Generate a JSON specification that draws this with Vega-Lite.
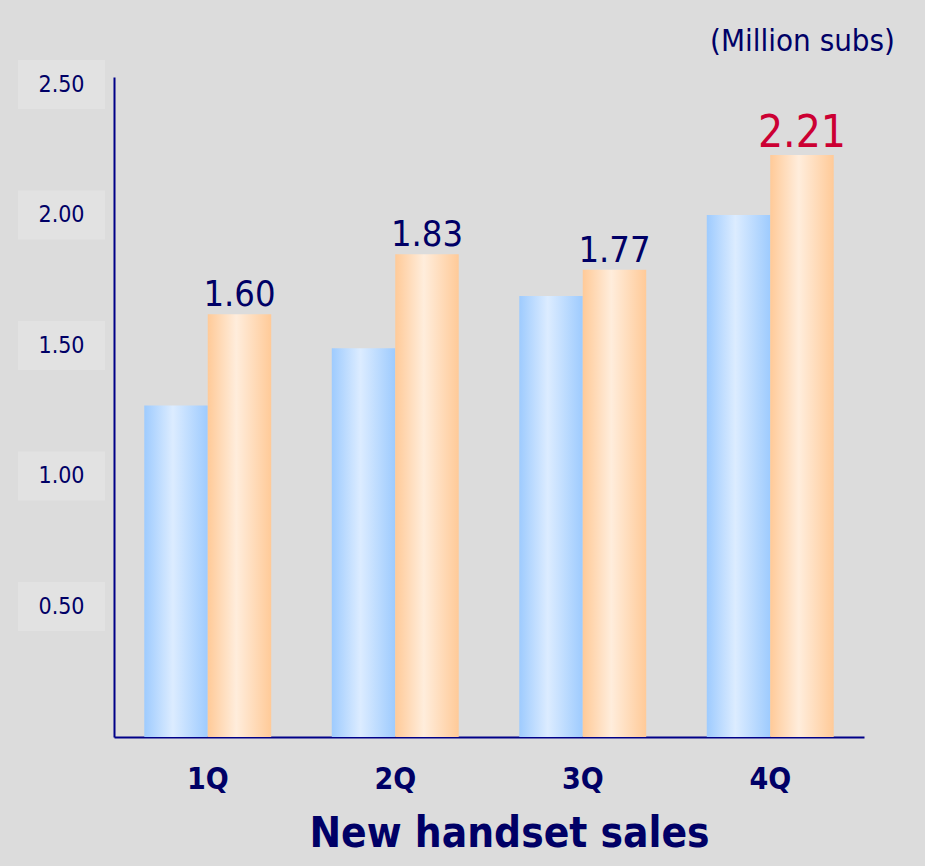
{
  "$schema": "https://vega.github.io/schema/vega-lite/v6.json",
  "background": "#dcdcdc",
  "padding": {"left": 18, "top": 26, "right": 30, "bottom": 12},
  "bounds": "flush",
  "spacing": 9,
  "config": {"view": {"stroke": null}, "font": "DejaVu Sans Condensed"},
  "title": {
    "text": "(Million subs)",
    "anchor": "end",
    "orient": "top",
    "fontSize": 31,
    "fontWeight": "normal",
    "color": "#000066",
    "font": "DejaVu Sans Condensed",
    "dx": 31,
    "offset": -29,
    "baseline": "bottom"
  },
  "datasets": {
    "sales": [
      {"quarter": "1Q", "series": "S1", "value": 1.27, "label": ""},
      {"quarter": "1Q", "series": "S2", "value": 1.62, "label": "1.60"},
      {"quarter": "2Q", "series": "S1", "value": 1.49, "label": ""},
      {"quarter": "2Q", "series": "S2", "value": 1.85, "label": "1.83"},
      {"quarter": "3Q", "series": "S1", "value": 1.69, "label": ""},
      {"quarter": "3Q", "series": "S2", "value": 1.79, "label": "1.77"},
      {"quarter": "4Q", "series": "S1", "value": 2.00, "label": ""},
      {"quarter": "4Q", "series": "S2", "value": 2.23, "label": "2.21"}
    ],
    "ticks": [
      {"tick": 0.5},
      {"tick": 1.0},
      {"tick": 1.5},
      {"tick": 2.0},
      {"tick": 2.5}
    ]
  },
  "hconcat": [
    {
      "width": 87,
      "height": 660,
      "data": {"name": "ticks"},
      "encoding": {
        "y": {
          "field": "tick",
          "type": "quantitative",
          "scale": {"domain": [0, 2.529], "nice": false, "zero": true},
          "axis": null
        }
      },
      "layer": [
        {"mark": {"type": "tick", "thickness": 49, "size": 87, "color": "#e2e2e2", "opacity": 1}},
        {
          "mark": {"type": "text", "fontSize": 23, "color": "#000066", "font": "DejaVu Sans Condensed"},
          "encoding": {"text": {"field": "tick", "type": "quantitative", "format": ".2f"}}
        }
      ]
    },
    {
      "width": 750,
      "height": 660,
      "data": {"name": "sales"},
      "encoding": {
        "x": {
          "field": "quarter",
          "type": "nominal",
          "sort": null,
          "scale": {"paddingInner": 0.323, "paddingOuter": 0.1615},
          "axis": {
            "title": "New handset sales",
            "domain": true,
            "domainColor": "#000088",
            "domainWidth": 2,
            "ticks": false,
            "grid": false,
            "labelAngle": 0,
            "labelFont": "DejaVu Sans Condensed",
            "labelFontSize": 30,
            "labelFontWeight": "bold",
            "labelColor": "#000066",
            "labelPadding": 51,
            "labelBaseline": "alphabetic",
            "titleFont": "DejaVu Sans Condensed",
            "titleFontSize": 42,
            "titleFontWeight": "bold",
            "titleColor": "#000066",
            "titleX": 395,
            "titleY": 109,
            "titleBaseline": "alphabetic",
            "titleAlign": "center"
          }
        },
        "xOffset": {
          "field": "series",
          "type": "nominal",
          "scale": {"domain": ["S1", "S2"], "paddingInner": 0, "paddingOuter": 0}
        },
        "y": {
          "field": "value",
          "type": "quantitative",
          "scale": {"domain": [0, 2.529], "nice": false, "zero": true},
          "axis": {
            "title": null,
            "labels": false,
            "ticks": false,
            "grid": false,
            "domain": true,
            "domainColor": "#000088",
            "domainWidth": 2
          }
        }
      },
      "layer": [
        {
          "transform": [{"filter": "datum.series === 'S1'"}],
          "mark": {
            "type": "bar",
            "color": {
              "gradient": "linear",
              "x1": 0, "y1": 0, "x2": 1, "y2": 0,
              "stops": [
                {"offset": 0, "color": "#9ecbfe"},
                {"offset": 0.45, "color": "#dcecff"},
                {"offset": 1, "color": "#9ecbfe"}
              ]
            }
          }
        },
        {
          "transform": [{"filter": "datum.series === 'S2'"}],
          "mark": {
            "type": "bar",
            "color": {
              "gradient": "linear",
              "x1": 0, "y1": 0, "x2": 1, "y2": 0,
              "stops": [
                {"offset": 0, "color": "#ffca98"},
                {"offset": 0.45, "color": "#ffeddc"},
                {"offset": 1, "color": "#ffca98"}
              ]
            }
          }
        },
        {
          "transform": [{"filter": "datum.series === 'S2'"}],
          "mark": {"type": "text", "baseline": "alphabetic", "dy": -8, "font": "DejaVu Sans Condensed"},
          "encoding": {
            "text": {"field": "label", "type": "nominal"},
            "color": {"condition": {"test": "datum.quarter === '4Q'", "value": "#cc0033"}, "value": "#000066"},
            "size": {"condition": {"test": "datum.quarter === '4Q'", "value": 44}, "value": 36}
          }
        }
      ]
    }
  ]
}
